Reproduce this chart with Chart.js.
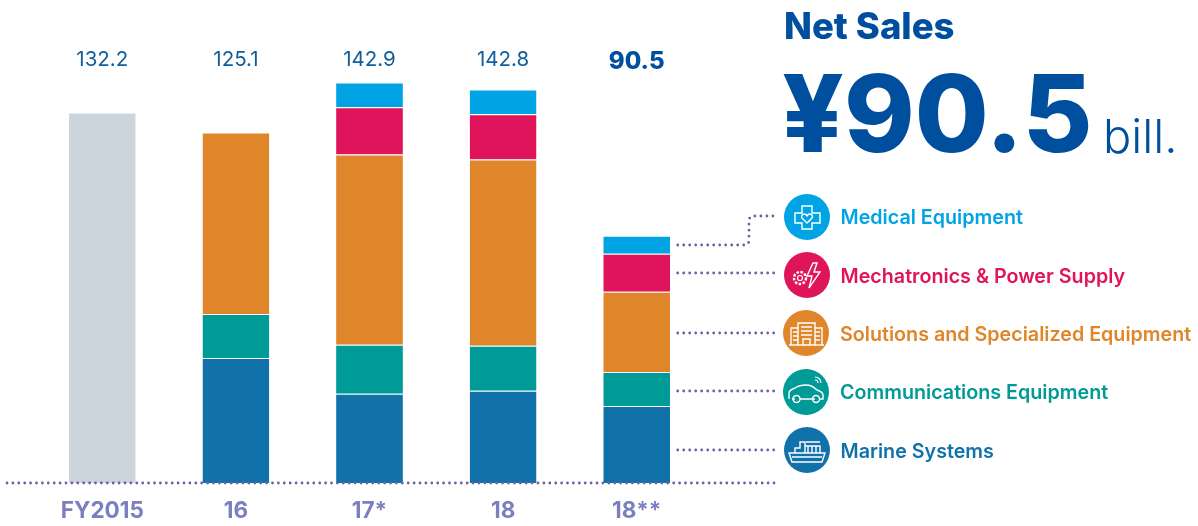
<!DOCTYPE html>
<html><head><meta charset="utf-8">
<script src="https://cdn.jsdelivr.net/npm/chart.js@4/dist/chart.umd.min.js"></script>
<style>
html,body{margin:0;padding:0;background:#fff;overflow:hidden}
#wrap{position:relative;width:1198px;height:526px;font-family:Inter,sans-serif}
canvas{position:absolute;left:0;top:0}
.t{position:absolute;white-space:nowrap;line-height:1}
.lg{font-weight:600;font-size:19.7px;letter-spacing:0}
.ic{position:absolute;width:46px;height:46px}
</style></head><body>
<div id="wrap">
<canvas id="c" width="1198" height="526"></canvas>
<div class="t" style="left:784px;top:8px;font-size:36.5px;font-weight:800;color:#004f9e">Net Sales</div>
<div class="t" style="left:782px;top:60px;font-size:107px;font-weight:800;color:#004f9e">¥90.5</div>
<div class="t" style="left:1103px;top:112px;font-size:47px;font-weight:300;color:#004f9e">bill.</div>

<svg class="ic" style="left:784px;top:194px" viewBox="0 0 46 46"><circle cx="23" cy="23" r="23" fill="#00a3e4"/><path d="M18 12h10v7h8v10h-8v6H18v-6h-7V19h7z" fill="none" stroke="#fff" stroke-width="1.4"/><path d="M23 29l-5-5c-2-3 3-6 5-2 2-4 7-1 5 2z" fill="none" stroke="#fff" stroke-width="1.4"/></svg>
<div class="t lg" style="left:840.500px;top:208px;color:#00a3e4">Medical Equipment</div>

<svg class="ic" style="left:784px;top:252px" viewBox="0 0 46 46"><circle cx="23" cy="23" r="23" fill="#e0145a"/><circle cx="16" cy="26" r="6" fill="none" stroke="#fff" stroke-width="2.4" stroke-dasharray="2.5 1.5"/><circle cx="16" cy="26" r="2.5" fill="none" stroke="#fff" stroke-width="1.2"/><path d="M29 11l-6 13h5l-3 12 11-16h-6l3-9z" fill="none" stroke="#fff" stroke-width="1.4"/></svg>
<div class="t lg" style="left:840.500px;top:267px;color:#e0145a">Mechatronics &amp; Power Supply</div>

<svg class="ic" style="left:783px;top:310px" viewBox="0 0 46 46"><circle cx="23" cy="23" r="23" fill="#e0862a"/><path d="M15 35V13h17v22M8 35V18h7M32 18h7v17M6 35h35M20 35v-6h7v6M18 17h11M18 21h11M18 25h11M10 22h5M10 26h5M10 30h5M32 22h5M32 26h5M32 30h5" fill="none" stroke="#fff" stroke-width="1.4"/></svg>
<div class="t lg" style="left:840px;top:325px;color:#e0862a">Solutions and Specialized Equipment</div>

<svg class="ic" style="left:783px;top:369px" viewBox="0 0 46 46"><circle cx="23" cy="23" r="23" fill="#009b96"/><path d="M6 30v-6c0-3 3-4 6-5 3-2 6-3 11-3 5 0 8 2 11 5 3 1 6 2 6 5v4h-4M12 30H9M17 30h15" fill="none" stroke="#fff" stroke-width="1.4"/><circle cx="13.500" cy="30" r="3.500" fill="none" stroke="#fff" stroke-width="1.4"/><circle cx="33" cy="30" r="3.500" fill="none" stroke="#fff" stroke-width="1.4"/><path d="M32 8a6 6 0 0 1 6 6M32 11a3 3 0 0 1 3 3" fill="none" stroke="#fff" stroke-width="1.2"/></svg>
<div class="t lg" style="left:840px;top:383px;color:#009b96">Communications Equipment</div>

<svg class="ic" style="left:784px;top:427px" viewBox="0 0 46 46"><circle cx="23" cy="23" r="23" fill="#1072a8"/><path d="M5 26h36l-3 9H8zM8 30h30M11 26v-5h5v-6h5v11M21 19h15v7M24 19v7M28 19v7M32 19v7M22 15h14" fill="none" stroke="#fff" stroke-width="1.4"/></svg>
<div class="t lg" style="left:840.500px;top:442px;color:#1072a8">Marine Systems</div>
</div>
<script>
const categories = ['FY2015','16','17*','18','18**'];
const totals = ['132.2','125.1','142.9','142.8','90.5'];
const totalFiscal2015 = [132.2,null,null,null,null];
const marineSystems = [null,44.6,31.8,32.9,27.5];
const communicationsEquipment = [null,15.7,17.5,16.1,12.1];
const solutionsEquipment = [null,64.7,67.9,66.4,28.6];
const mechatronicsPower = [null,null,16.8,16.1,13.6];
const medicalEquipment = [null,null,8.9,8.9,6.4];
const axisMax = 150;

const dotColor = '#6d5fa8';
const connectors = {
  id:'connectors',
  afterDatasetsDraw(chart){
    const {ctx,scales:{x,y}} = chart;
    const base = y.getPixelForValue(0);
    const barRight = x.getPixelForValue(4) + 41;
    ctx.save();
    ctx.strokeStyle = dotColor; ctx.lineWidth = 2.8; ctx.lineCap = 'round';
    ctx.setLineDash([0,5.9]);
    ctx.beginPath(); ctx.moveTo(7,base); ctx.lineTo(775,base); ctx.stroke();
    ctx.setLineDash([0,6]);
    [273,333,391,450].forEach(py=>{ctx.beginPath();ctx.moveTo(barRight,py);ctx.lineTo(774,py);ctx.stroke();});
    ctx.beginPath(); ctx.moveTo(barRight,245); ctx.lineTo(744,245);
    ctx.quadraticCurveTo(749,245,749,240); ctx.lineTo(749,221);
    ctx.quadraticCurveTo(749,216,754,216); ctx.lineTo(774,216); ctx.stroke();
    ctx.restore();
  }
};
const mk = (label,data,color)=>({label,data,backgroundColor:color,borderColor:'#fff',
  borderWidth:{top:1,bottom:0,left:0,right:0},borderSkipped:false,stack:'a',
  barPercentage:.5,categoryPercentage:1});
new Chart(document.getElementById('c'),{
  type:'bar',
  data:{labels:categories,datasets:[
    mk('FY2015 total',totalFiscal2015,'#cdd5dc'),
    mk('Marine Systems',marineSystems,'#1072a8'),
    mk('Communications Equipment',communicationsEquipment,'#009b96'),
    mk('Solutions and Specialized Equipment',solutionsEquipment,'#e0862a'),
    mk('Mechatronics & Power Supply',mechatronicsPower,'#e0145a'),
    mk('Medical Equipment',medicalEquipment,'#00a3e4')
  ]},
  plugins:[connectors],
  options:{
    responsive:false,animation:false,devicePixelRatio:1,
    layout:{padding:{left:35.5,right:494.5,top:0,bottom:0}},
    plugins:{legend:{display:false},tooltip:{enabled:false}},
    scales:{
      x:{stacked:true,position:'bottom',grid:{display:false},border:{display:false},
        afterFit(s){s.height=43;},
        ticks:{padding:7,maxRotation:0,autoSkip:false,color:'#7a7fc0',font:{family:'Inter',size:22.5,weight:'700'}}},
      xTop:{position:'top',type:'category',labels:totals,grid:{display:false},border:{display:false},
        afterFit(s){s.height=62.5;},
        ticks:{mirror:true,padding:-15,maxRotation:0,autoSkip:false,
          color:c=>c.index===4?'#004f9e':'#0f5fa0',
          font:c=>({family:'Inter',size:c.index===4?24:20.5,weight:c.index===4?'800':'400'})}},
      y:{stacked:true,min:0,max:axisMax,display:false}
    }
  }
});
</script>
</body></html>
